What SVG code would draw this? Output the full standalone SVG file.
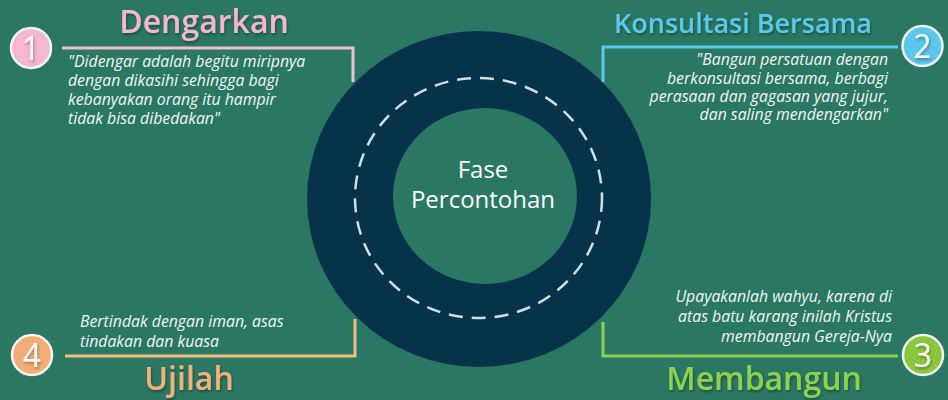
<svg xmlns="http://www.w3.org/2000/svg" width="948" height="400" viewBox="0 0 948 400">
<defs>
<filter id="sh" x="-10%" y="-20%" width="130%" height="160%"><feDropShadow dx="1" dy="2" stdDeviation="1.5" flood-color="#000" flood-opacity="0.35"/></filter>
<style>
.title{font-family:"Open Sans","Liberation Sans",sans-serif;font-weight:600;font-size:32px}
.body{font-family:"Open Sans","Liberation Sans",sans-serif;font-style:italic;font-size:15.8px;fill:#f2f6f4}
.num{font-family:"Open Sans","Liberation Sans",sans-serif;font-size:32px;fill:#fff;text-anchor:middle}
.badge{stroke:#f4f4f4;stroke-width:2.5}
.conn{fill:none;stroke-width:3}
.center{font-family:"Open Sans","Liberation Sans",sans-serif;font-size:24px;fill:#fff;text-anchor:middle}
</style>
</defs>
<rect width="948" height="400" fill="#2a7863"/>
<g id="hub">
<ellipse cx="479" cy="199" rx="172" ry="168" fill="#06334a"/>
<ellipse cx="478.5" cy="198" rx="123.5" ry="120" fill="none" stroke="#cfe0e2" stroke-width="2.5" stroke-dasharray="14 9"/>
<ellipse cx="485" cy="196" rx="92" ry="88" fill="#2a7863"/>
<text class="center" x="483" y="178">Fase</text>
<text class="center" x="483" y="208">Percontohan</text>
</g>
<g id="connectors">
<polyline class="conn" stroke="#f0bfd3" points="62,48 353,48 353,82"/>
<polyline class="conn" stroke="#5cc9ea" points="898,47 603,47 603,82"/>
<polyline class="conn" stroke="#8dcf4f" points="898,356 603,356 603,322"/>
<polyline class="conn" stroke="#f2c07e" points="65,356 355,356 355,319"/>
</g>
<g id="node1">
<circle class="badge" cx="31" cy="48" r="20" fill="#f5b6cf"/>
<text class="num" x="31" y="60" filter="url(#sh)">1</text>
<text class="title" x="204" y="33" fill="#f6b5d0" text-anchor="middle" filter="url(#sh)">Dengarkan</text>
<text class="body" x="68" y="67">"Didengar adalah begitu miripnya</text>
<text class="body" x="68" y="86">dengan dikasihi sehingga bagi</text>
<text class="body" x="68" y="105">kebanyakan orang itu hampir</text>
<text class="body" x="68" y="124">tidak bisa dibedakan"</text>
</g>
<g id="node2">
<circle class="badge" cx="922.5" cy="46" r="20" fill="#5bc7ea"/>
<text class="num" x="922.5" y="58" filter="url(#sh)">2</text>
<text class="title" x="743" y="33" fill="#5cc9ec" text-anchor="middle" filter="url(#sh)" style="font-size:27px">Konsultasi Bersama</text>
<text class="body" x="888" y="65" text-anchor="end">"Bangun persatuan dengan</text>
<text class="body" x="888" y="84" text-anchor="end">berkonsultasi bersama, berbagi</text>
<text class="body" x="888" y="102" text-anchor="end">perasaan dan gagasan yang jujur,</text>
<text class="body" x="888" y="120" text-anchor="end">dan saling mendengarkan"</text>
</g>
<g id="node3">
<circle class="badge" cx="923" cy="355" r="20" fill="#8cc63f"/>
<text class="num" x="923" y="367" filter="url(#sh)">3</text>
<text class="title" x="764" y="390" fill="#8dd150" text-anchor="middle" filter="url(#sh)">Membangun</text>
<text class="body" x="892" y="302" text-anchor="end">Upayakanlah wahyu, karena di</text>
<text class="body" x="892" y="322" text-anchor="end">atas batu karang inilah Kristus</text>
<text class="body" x="892" y="342" text-anchor="end">membangun Gereja-Nya</text>
</g>
<g id="node4">
<circle class="badge" cx="32" cy="355" r="20" fill="#f3ae78"/>
<text class="num" x="32" y="367" filter="url(#sh)">4</text>
<text class="title" x="189" y="390" fill="#f5b07a" text-anchor="middle" filter="url(#sh)">Ujilah</text>
<text class="body" x="80" y="327">Bertindak dengan iman, asas</text>
<text class="body" x="80" y="347">tindakan dan kuasa</text>
</g>
</svg>
